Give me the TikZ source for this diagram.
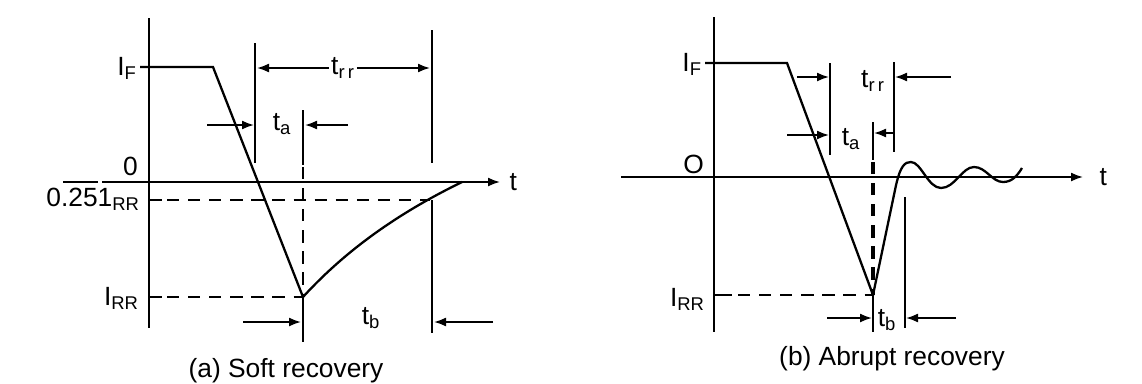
\documentclass[tikz,border=0pt]{standalone}
\usepackage{fontspec}
\setmainfont{Liberation Sans}
\usetikzlibrary{arrows.meta,positioning}
\tikzset{
  ax/.style={line width=1.6pt},
  wave/.style={line width=1.3pt},
  guide/.style={line width=1pt},
  dsh/.style={line width=1.2pt,dash pattern=on 7pt off 5pt},
  arr/.style={-{Latex[length=2.4mm,width=1.8mm]},line width=1pt},
  lbl/.style={font=\fontsize{15}{17}\selectfont,inner sep=1pt},
  captxt/.style={font=\fontsize{15}{18}\selectfont,inner sep=1pt}
}
\begin{document}
\begin{tikzpicture}[x=0.02cm,y=-0.02cm]
\useasboundingbox (0,0) rectangle (1142,383);
% (a) soft recovery
\coordinate (aTop) at (149,18); \coordinate (aBot) at (149,328);
\coordinate (aZL) at (63,182); \coordinate (aZR) at (500,182);
\coordinate (aIF) at (140,67); \coordinate (aKnee) at (213,67);
\coordinate (aPk) at (303,297); \coordinate (aQ) at (430,200); \coordinate (aEnd) at (462,182);
\coordinate (aLft) at (257,0); \coordinate (aRgt) at (430,0);
\draw[ax] (aTop) -- (aBot);
\draw[guide] (aZL) -- (98,182);
\draw[arr] (102,182) -- (aZR) node[lbl,right=4pt] (at) {t};
\node[lbl,anchor=east] (aif) at (139,68) {I\textsubscript{F}};
\node[lbl,anchor=east] (a0) at (140,166) {0};
\node[lbl,anchor=east] (aq) at (142,199) {0.251\textsubscript{RR}};
\node[lbl,anchor=east] (airr) at (141,298) {I\textsubscript{RR}};
\draw[wave] (aIF) -- (aKnee) -- (aPk) .. controls (355,240) and (415,205) .. (aEnd);
\draw[guide] (149,200) -- (162,200);
\draw[guide] (149,297) -- (162,297);
\draw[dsh] (167,200) -- (aQ);
\draw[dsh] (167,297) -- (aPk);
\draw[dsh,line width=1pt] (303,167) -- (aPk);
\draw[guide] (303,110) -- (303,165);
\draw[guide] (aPk) -- (303,342);
\draw[guide] (255,43) -- (255,163);
\draw[guide] (432,30) -- (432,163);
\draw[guide] (432,200) -- (432,333);
\node[lbl] (atrr) at (343,68) {t\textsubscript{r\,r}};
\draw[arr] (atrr.west) -- (atrr.west -| aLft);
\draw[arr] (atrr.east) -- (atrr.east -| aRgt);
\node[lbl] (ata) at (282,124) {t\textsubscript{a}};
\draw[arr] (207,125) -- (254,125);
\draw[arr] (348,125) -- (305,125);
\node[lbl] (atb) at (371,318) {t\textsubscript{b}};
\draw[arr] (243,322) -- (301,322);
\draw[arr] (493,322) -- (434,322);
\node[captxt] (acap) at (286,371) {(a) Soft recovery};
% (b) abrupt recovery
\coordinate (bTop) at (714,17); \coordinate (bBot) at (714,332);
\coordinate (bZL) at (621,177); \coordinate (bZR) at (1083,177);
\coordinate (bIF) at (705,63); \coordinate (bKnee) at (787,63);
\coordinate (bPk) at (873,295);
\draw[ax] (bTop) -- (bBot);
\draw[arr] (bZL) -- (bZR) node[lbl,right=8pt] (bt) {t};
\node[lbl,anchor=east] (bif) at (704,64) {I\textsubscript{F}};
\node[lbl,anchor=east] (b0) at (706,164) {O};
\node[lbl,anchor=east] (birr) at (707,299) {I\textsubscript{RR}};
\draw[wave] (bIF) -- (bKnee) -- (bPk) -- (895,190)
  .. controls (900,165) and (905,162) .. (911,162)
  .. controls (921,162) and (928,188) .. (941,188)
  .. controls (955,188) and (962,167) .. (974,167)
  .. controls (986,167) and (992,182) .. (1003,182)
  .. controls (1012,182) and (1017,176) .. (1022,168);
\draw[guide] (714,295) -- (732,295);
\draw[dsh] (738,295) -- (bPk);
\draw[dsh,line width=1.8pt] (873,162) -- (bPk);
\draw[guide] (873,122) -- (873,160);
\draw[guide] (bPk) -- (873,332);
\draw[guide] (830,63) -- (830,155);
\draw[guide] (894,62) -- (894,152);
\draw[guide] (905,197) -- (905,328);
\node[lbl] (btrr) at (873,81) {t\textsubscript{r\,r}};
\draw[arr] (797,77) -- (829,77);
\draw[arr] (951,77) -- (895,77);
\node[lbl] (bta) at (851,139) {t\textsubscript{a}};
\draw[arr] (787,135) -- (829,135);
\draw[arr] (894,133) -- (874,133);
\node[lbl] (btb) at (887,320) {t\textsubscript{b}};
\draw[arr] (827,318) -- (872,318);
\draw[arr] (956,318) -- (906,318);
\node[captxt] (bcap) at (892,359) {(b) Abrupt recovery};
\end{tikzpicture}
\end{document}
